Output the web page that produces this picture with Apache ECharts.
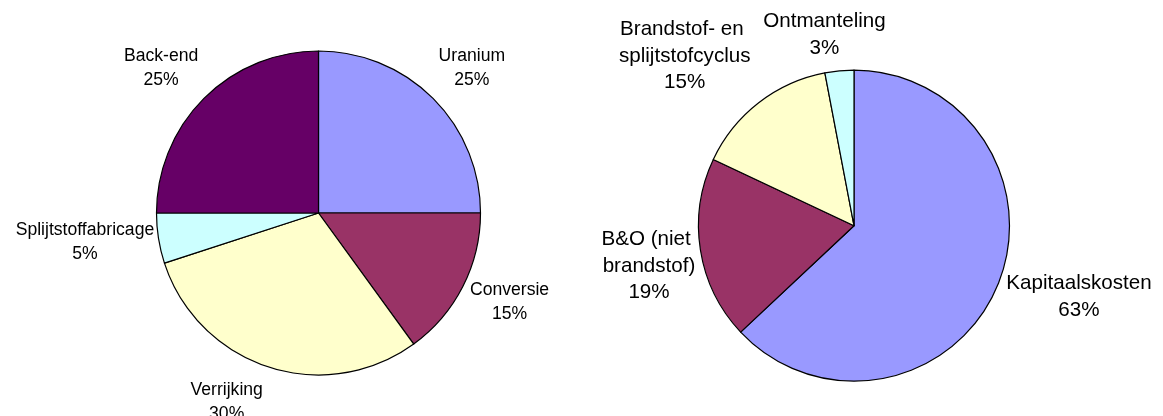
<!DOCTYPE html>
<html>
<head>
<meta charset="utf-8">
<script src="https://cdn.jsdelivr.net/npm/echarts@6/dist/echarts.min.js"></script>
<style>
  html, body { margin: 0; padding: 0; background: #ffffff; }
  #chart { width: 1163px; height: 416px; }
</style>
</head>
<body>
<div id="chart"></div>
<script>
// ---- data ----
var fuelCategories = ['Uranium', 'Conversie', 'Verrijking', 'Splijtstoffabricage', 'Back-end'];
var fuelShares = [25, 15, 30, 5, 25];

var costCategories = ['Kapitaalskosten', 'B&O (niet brandstof)', 'Brandstof- en splijtstofcyclus', 'Ontmanteling'];
var costShares = [63, 19, 15, 3];

// ---- styling / layout ----
var fuelColors = ['#9999FF', '#993366', '#FFFFCC', '#CCFFFF', '#660066'];
var costColors = ['#9999FF', '#993366', '#FFFFCC', '#CCFFFF'];

var leftPie = { center: [318.5, 213], radius: 162 };
var rightPie = { center: [854, 225.7], radius: 155.5 };

// label placement: [angle clockwise from 12 o'clock (deg), distance from centre (px)]
var leftLabelPolar = [[46.7, 210.7], [114.9, 210.6], [205.9, 210.2], [263, 235.3], [312.6, 213.8]];
var rightLabelPolar = [[107.5, 235.9], [258.9, 208.9], [315.1, 239.8], [351.2, 193.2]];

function makeLayout(pie, polar) {
  return function (params) {
    var p = polar[params.dataIndex];
    var a = p[0] * Math.PI / 180;
    return {
      x: pie.center[0] + p[1] * Math.sin(a),
      y: pie.center[1] - p[1] * Math.cos(a),
      align: 'center',
      verticalAlign: 'middle'
    };
  };
}

function buildData(names, values, colors) {
  return names.map(function (n, i) {
    return { name: n, value: values[i], itemStyle: { color: colors[i] } };
  });
}

var chart = echarts.init(document.getElementById('chart'), null, { renderer: 'canvas' });
chart.setOption({
  animation: false,
  backgroundColor: '#ffffff',
  series: [
    {
      type: 'pie',
      center: leftPie.center,
      radius: leftPie.radius,
      startAngle: 90,
      clockwise: true,
      avoidLabelOverlap: false,
      percentPrecision: 0,
      itemStyle: { borderColor: '#000000', borderWidth: 1.2 },
      emphasis: { disabled: true },
      label: {
        show: true,
        position: 'outside',
        formatter: '{b}\n{d}%',
        fontFamily: 'Liberation Sans, Arial, sans-serif',
        fontSize: 17.6,
        lineHeight: 24,
        color: '#000000',
        align: 'center'
      },
      labelLine: { show: false },
      labelLayout: makeLayout(leftPie, leftLabelPolar),
      data: buildData(fuelCategories, fuelShares, fuelColors)
    },
    {
      type: 'pie',
      center: rightPie.center,
      radius: rightPie.radius,
      startAngle: 90,
      clockwise: true,
      avoidLabelOverlap: false,
      percentPrecision: 0,
      itemStyle: { borderColor: '#000000', borderWidth: 1.2 },
      emphasis: { disabled: true },
      label: {
        show: true,
        position: 'outside',
        formatter: '{b}\n{d}%',
        fontFamily: 'Liberation Sans, Arial, sans-serif',
        fontSize: 20.6,
        lineHeight: 26.5,
        color: '#000000',
        align: 'center',
        width: 152,
        overflow: 'break'
      },
      labelLine: { show: false },
      labelLayout: makeLayout(rightPie, rightLabelPolar),
      data: buildData(costCategories, costShares, costColors)
    }
  ]
});
</script>
</body>
</html>
